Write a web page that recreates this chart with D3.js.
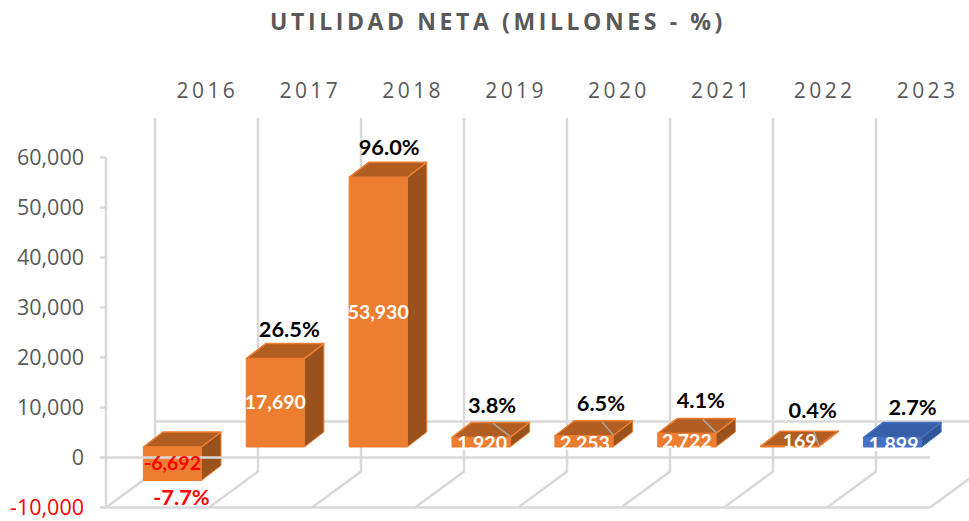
<!DOCTYPE html>
<html>
<head>
<meta charset="utf-8">
<script src="https://cdn.jsdelivr.net/npm/d3@7"></script>
<style>
html, body { margin: 0; padding: 0; background: #fff; }
text { font-family: Lato, "Open Sans", sans-serif; }
.oss { font-family: "Open Sans", sans-serif; }
</style>
</head>
<body>
<svg width="969" height="521"></svg>
<script>
var years = ["2016", "2017", "2018", "2019", "2020", "2021", "2022", "2023"];
var utilidad = [-6692, 17690, 53930, 1920, 2253, 2722, 169, 1899];
var utilidadLabels = ["-6,692", "17,690", "53,930", "1,920", "2,253", "2,722", "169", "1,899"];
var margen = ["-7.7%", "26.5%", "96.0%", "3.8%", "6.5%", "4.1%", "0.4%", "2.7%"];
var yTicks = [-10000, 0, 10000, 20000, 30000, 40000, 50000, 60000];

var svg = d3.select("svg");

var depthX = 19.5, depthY = 15;
var wallX = 49, wallY = 36;

// front plane of the axis box
var yScale = d3.scaleLinear().domain([-10000, 60000]).range([507.5, 157.5]);
var xScale = d3.scaleBand().domain(years).range([106, 930]);
var barX = d3.scaleBand().domain(years).range([121, 944]).paddingInner(0.435).paddingOuter(0.2175);

var grid = "#d9d9d9";
var orange = "#ed7d31", orangeTop = "#b25e22", orangeSide = "#99521c";
var blue = "#4472c4", blueTop = "#3860a8", blueSide = "#2f5597";

svg.append("text")
    .attr("class", "oss")
    .attr("x", 498).attr("y", 30)
    .attr("text-anchor", "middle")
    .attr("font-size", "23px")
    .attr("font-weight", "bold")
    .attr("letter-spacing", "3.6px")
    .attr("fill", "#595959")
    .text("UTILIDAD NETA (MILLONES - %)");

// walls and floor
var g = svg.append("g").attr("fill", "none").attr("stroke", grid).attr("stroke-width", 2.5);

years.concat(["end"]).forEach(function(y, i) {
    var x0 = i < 8 ? xScale(y) : 930;
    var l = [[x0, yScale(-10000)], [x0 + wallX, yScale(-10000) - wallY]];
    if (i < 8) l.push([x0 + wallX, 118]);
    g.append("path").attr("d", d3.line()(l));
});
g.append("path").attr("d", d3.line()([[100, yScale(-10000)], [930, yScale(-10000)]]));
g.append("path").attr("d", d3.line()([[155, yScale(0) - wallY], [969, yScale(0) - wallY]]));
g.append("path").attr("d", d3.line()([[106, yScale(60000)], [106, yScale(-10000)]]));
yTicks.forEach(function(t) {
    g.append("path").attr("d", d3.line()([[100, yScale(t)], [106, yScale(t)]]));
});

svg.append("g").selectAll("text").data(yTicks).enter().append("text")
    .attr("class", "oss")
    .attr("x", 84)
    .attr("y", function(d) { return yScale(d) + 7.5; })
    .attr("text-anchor", "end")
    .attr("font-size", "21.5px")
    .attr("fill", function(d) { return d < 0 ? "#ff0000" : "#595959"; })
    .text(function(d) { return d3.format(",")(d).replace("\u2212", "-"); });

svg.append("g").selectAll("text").data(years).enter().append("text")
    .attr("class", "oss")
    .attr("x", function(d) { return barX(d) + barX.bandwidth() / 2 + 35; })
    .attr("y", 98)
    .attr("text-anchor", "middle")
    .attr("font-size", "21px")
    .attr("letter-spacing", "3.4px")
    .attr("fill", "#595959")
    .text(function(d) { return d; });

// bars start from a floor lifted over the front plane
var base = yScale(0) - 10.5;
function barTop(v) { return base - (yScale(0) - yScale(Math.max(v, 0))); }
function barBottom(v) { return base + (yScale(v < 0 ? v : 0) - yScale(0)); }

var bars = svg.append("g").selectAll("g").data(years).enter().append("g")
    .attr("stroke-linejoin", "round");

bars.each(function(y, i) {
    var v = utilidad[i], el = d3.select(this);
    var x0 = barX(y), x1 = x0 + barX.bandwidth(), t = barTop(v), b = barBottom(v);
    var isLast = i == 7;
    var line = isLast ? blue : orange;
    el.append("path")
        .attr("d", d3.line()([[x1, t], [x1 + depthX, t - depthY], [x1 + depthX, b - depthY], [x1, b]]) + "Z")
        .attr("fill", isLast ? blueSide : orangeSide).attr("stroke", line).attr("stroke-width", 1);
    el.append("path")
        .attr("d", d3.line()([[x0, t], [x0 + depthX, t - depthY], [x1 + depthX, t - depthY], [x1, t]]) + "Z")
        .attr("fill", isLast ? blueTop : orangeTop).attr("stroke", line).attr("stroke-width", 1.5);
    el.append("rect")
        .attr("x", x0).attr("y", t)
        .attr("width", barX.bandwidth()).attr("height", b - t)
        .attr("fill", line).attr("stroke", line).attr("stroke-width", 1);
});

// the zero line runs over the negative bar
svg.append("path")
    .attr("d", d3.line()([[100, yScale(0)], [930, yScale(0)]]))
    .attr("stroke", grid).attr("stroke-width", 2.5).attr("fill", "none");

// value labels: white, so they vanish past the edge of a thin bar
var valueNudge = [0, 0, 0, 1, 1, 0, 10, 1];
var valueBase = [470, 409, 319, 450, 450, 448, 448, 451];
svg.append("g").selectAll("text").data(years).enter().append("text")
    .attr("x", function(d, i) { return barX(d) + barX.bandwidth() / 2 + valueNudge[i]; })
    .attr("y", function(d, i) { return valueBase[i]; })
    .attr("text-anchor", "middle")
    .attr("font-size", "19.5px")
    .attr("font-weight", "bold")
    .attr("fill", function(d, i) { return i == 0 ? "#ff0000" : "#fff"; })
    .text(function(d, i) { return utilidadLabels[i]; });

// leader lines on the thin bars
var leaders = [null, null, null, [-17, -13], [-11, -13], [-13, -13], [-5, -14], null];
leaders.forEach(function(d, i) {
    if (!d) return;
    var x = barX(years[i]) + barX.bandwidth(), y = barTop(utilidad[i]);
    svg.append("path")
        .attr("d", d3.line()([[x, y - 1], [x + d[0], y - 1 + d[1]]]))
        .attr("stroke", "#a6a6a6").attr("stroke-width", 1.5);
});

var pctNudge = [9, 14, 11, 11, 17, 14, 23, 20];
var pctY = [505, 337, 155, 413, 411, 408, 418, 415];
svg.append("g").selectAll("text").data(years).enter().append("text")
    .attr("x", function(d, i) { return barX(d) + barX.bandwidth() / 2 + pctNudge[i]; })
    .attr("y", function(d, i) { return pctY[i]; })
    .attr("text-anchor", "middle")
    .attr("font-size", "21.8px")
    .attr("font-weight", "bold")
    .attr("fill", function(d, i) { return i == 0 ? "#ff0000" : "#000"; })
    .text(function(d, i) { return margen[i]; });
</script>
</body>
</html>
